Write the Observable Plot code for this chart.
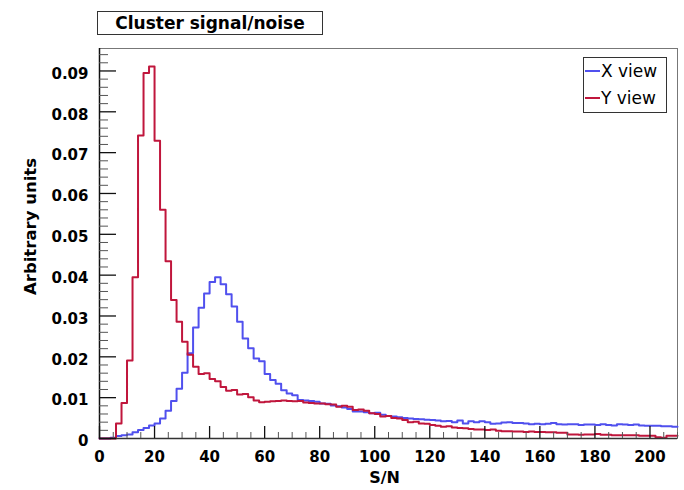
<!DOCTYPE html>
<html>
<head>
<meta charset="utf-8">
<script src="https://cdn.jsdelivr.net/npm/d3@7"></script>
<script src="https://cdn.jsdelivr.net/npm/@observablehq/plot@0.6"></script>
<style>
  body { margin: 0; background: #fff; }
  #wrap { position: relative; width: 684px; height: 490px; font-family: "DejaVu Sans", sans-serif; }
  #title { position: absolute; left: 97px; top: 11px; width: 224px; height: 22px; border: 1px solid #333;
           font-weight: bold; font-size: 17px; line-height: 22px; text-align: center; background: #fff; }
  #legend { position: absolute; left: 583px; top: 57px; width: 82px; height: 54px; border: 1px solid #333; background: #fff; }
  .row { position: absolute; left: 0; height: 26px; width: 82px; }
  .sw { position: absolute; left: 1px; width: 15px; height: 2px; }
  .lab { position: absolute; left: 17px; font-size: 17px; line-height: 20px; white-space: nowrap; }
</style>
</head>
<body>
<div id="wrap">
  <div id="chart"></div>
  <div id="title">Cluster signal/noise</div>
  <div id="legend"></div>
</div>
<script>
// ---- data ----
const seriesNames = ["X view", "Y view"];
const seriesColors = ["#5050ee", "#c0163c"];
const binWidth = 2;
const xMax = 210;
// bin contents, bins of width 2 starting at 0
const xView = [
  0, 0, 0.0002, 0.0006, 0.0008, 0.0010, 0.0015, 0.0021, 0.0026, 0.0032,
  0.0037, 0.0049, 0.0068, 0.0092, 0.0122, 0.0161, 0.0209, 0.0272, 0.0320, 0.0355,
  0.0383, 0.0395, 0.0378, 0.0353, 0.0323, 0.0286, 0.0245, 0.0221, 0.0196, 0.0189,
  0.0158, 0.0143, 0.0134, 0.0118, 0.0110, 0.0106, 0.0094, 0.0093, 0.0092, 0.0090,
  0.0086, 0.0085, 0.0081, 0.0079, 0.0076, 0.0072, 0.0066, 0.0066, 0.0064, 0.0062,
  0.0063, 0.0058, 0.0055, 0.0054, 0.0052, 0.0050, 0.0049, 0.0048, 0.0047, 0.0046,
  0.0045, 0.0044, 0.0042, 0.0043, 0.0040, 0.0044, 0.0037, 0.0042, 0.0040, 0.0042,
  0.0040, 0.0036, 0.0037, 0.0039, 0.0040, 0.0038, 0.0038, 0.0037, 0.0035, 0.0036,
  0.0035, 0.0036, 0.0038, 0.0035, 0.0034, 0.0035, 0.0035, 0.0033, 0.0034, 0.0034,
  0.0033, 0.0035, 0.0033, 0.0032, 0.0035, 0.0034, 0.0033, 0.0034, 0.0032, 0.0031,
  0.0031, 0.0031, 0.0030, 0.0030, 0.0029
];
const yView = [
  0, 0, 0, 0.0037, 0.0087, 0.0191, 0.0395, 0.0742, 0.0895, 0.0911,
  0.0729, 0.0560, 0.0434, 0.0339, 0.0286, 0.0237, 0.0205, 0.0176, 0.0158, 0.0160,
  0.0146, 0.0140, 0.0126, 0.0117, 0.0119, 0.0108, 0.0109, 0.0101, 0.0093, 0.0089,
  0.0090, 0.0091, 0.0092, 0.0093, 0.0092, 0.0091, 0.0092, 0.0088, 0.0087, 0.0086,
  0.0086, 0.0084, 0.0083, 0.0078, 0.0080, 0.0078, 0.0070, 0.0071, 0.0068, 0.0062,
  0.0060, 0.0054, 0.0055, 0.0050, 0.0049, 0.0045, 0.0040, 0.0041, 0.0037, 0.0036,
  0.0033, 0.0031, 0.0029, 0.0030, 0.0027, 0.0026, 0.0025, 0.0023, 0.0022, 0.0022,
  0.0021, 0.0022, 0.0019, 0.0018, 0.0018, 0.0017, 0.0017, 0.0016, 0.0017, 0.0016,
  0.0016, 0.0015, 0.0015, 0.0014, 0.0014, 0.0010, 0.0010, 0.0009, 0.0010, 0.0010,
  0.0011, 0.0009, 0.0009, 0.0008, 0.0008, 0.0008, 0.0008, 0.0008, 0.0007, 0.0007,
  0.0007, 0.0003, 0.0002, 0.0007, 0.0007
];
const xTickLabels = [0, 20, 40, 60, 80, 100, 120, 140, 160, 180, 200];
const yTickLabels = [0, 0.01, 0.02, 0.03, 0.04, 0.05, 0.06, 0.07, 0.08, 0.09];
const yMax = 0.0955;

// ---- layout ----
const W = 684, H = 490, mL = 99, mR = 7, mT = 48, mB = 52;
const fw = W - mL - mR, fh = H - mT - mB;

function steps(vals) {
  const pts = vals.map((v, i) => ({x: i * binWidth, y: v}));
  pts.push({x: xMax, y: vals[vals.length - 1]});
  return pts;
}
const xMinor = d3.range(0, xMax + 0.001, 5).filter(v => v % 20 !== 0);
const yMinor = d3.range(0, yMax, 0.002).filter(v => Math.abs(v * 100 - Math.round(v * 100)) > 1e-6);

const chart = Plot.plot({
  width: W, height: H,
  marginLeft: mL, marginRight: mR, marginTop: mT, marginBottom: mB,
  style: {fontFamily: "DejaVu Sans, sans-serif", fontSize: "15px", background: "#fff", overflow: "visible"},
  x: {domain: [0, xMax]},
  y: {domain: [0, yMax]},
  marks: [
    Plot.frame({stroke: "#777", strokeWidth: 1}),
    Plot.line(steps(xView), {x: "x", y: "y", curve: "step-after", stroke: seriesColors[0], strokeWidth: 2}),
    Plot.line(steps(yView), {x: "x", y: "y", curve: "step-after", stroke: seriesColors[1], strokeWidth: 2}),
    Plot.ruleX([0], {stroke: "#111", strokeWidth: 1.5}),
    Plot.ruleY([0], {stroke: "#333", strokeWidth: 1.5}),
    Plot.tickY(yTickLabels, {y: d => d, insetRight: fw - 17, stroke: "#111", strokeWidth: 1.3}),
    Plot.tickY(yMinor, {y: d => d, insetRight: fw - 9, stroke: "#555", strokeWidth: 1}),
    Plot.tickX(xTickLabels, {x: d => d, insetTop: fh - 12, stroke: "#111", strokeWidth: 1.3}),
    Plot.tickX(xMinor, {x: d => d, insetTop: fh - 6, stroke: "#555", strokeWidth: 1}),
    Plot.axisY(yTickLabels, {tickSize: 0, tickPadding: 11, dy: 3, label: null,
      tickFormat: d => d === 0 ? "0" : d.toFixed(2), fontWeight: "bold", fontSize: 15, fill: "#000"}),
    Plot.axisX(xTickLabels, {tickSize: 0, tickPadding: 13, label: null,
      tickFormat: d => String(d), fontWeight: "bold", fontSize: 15, fill: "#000"}),
    Plot.text(["S/N"], {text: d => d, frameAnchor: "bottom", dy: 44, dx: -4, fontWeight: "bold", fontSize: 16, fill: "#000"}),
    Plot.text(["Arbitrary units"], {text: d => d, frameAnchor: "left", textAnchor: "middle", rotate: -90, dx: -69, dy: -17,
      fontWeight: "bold", fontSize: 16.5, fill: "#000"})
  ]
});
document.getElementById("chart").appendChild(chart);

// legend
const legend = document.getElementById("legend");
seriesNames.forEach((name, i) => {
  const row = document.createElement("div");
  row.className = "row";
  row.style.top = (i * 27 + 3) + "px";
  const sw = document.createElement("div");
  sw.className = "sw";
  sw.style.top = "9px";
  sw.style.background = seriesColors[i];
  const lab = document.createElement("div");
  lab.className = "lab";
  lab.style.top = "0px";
  lab.textContent = name;
  row.appendChild(sw); row.appendChild(lab);
  legend.appendChild(row);
});
</script>
</body>
</html>
